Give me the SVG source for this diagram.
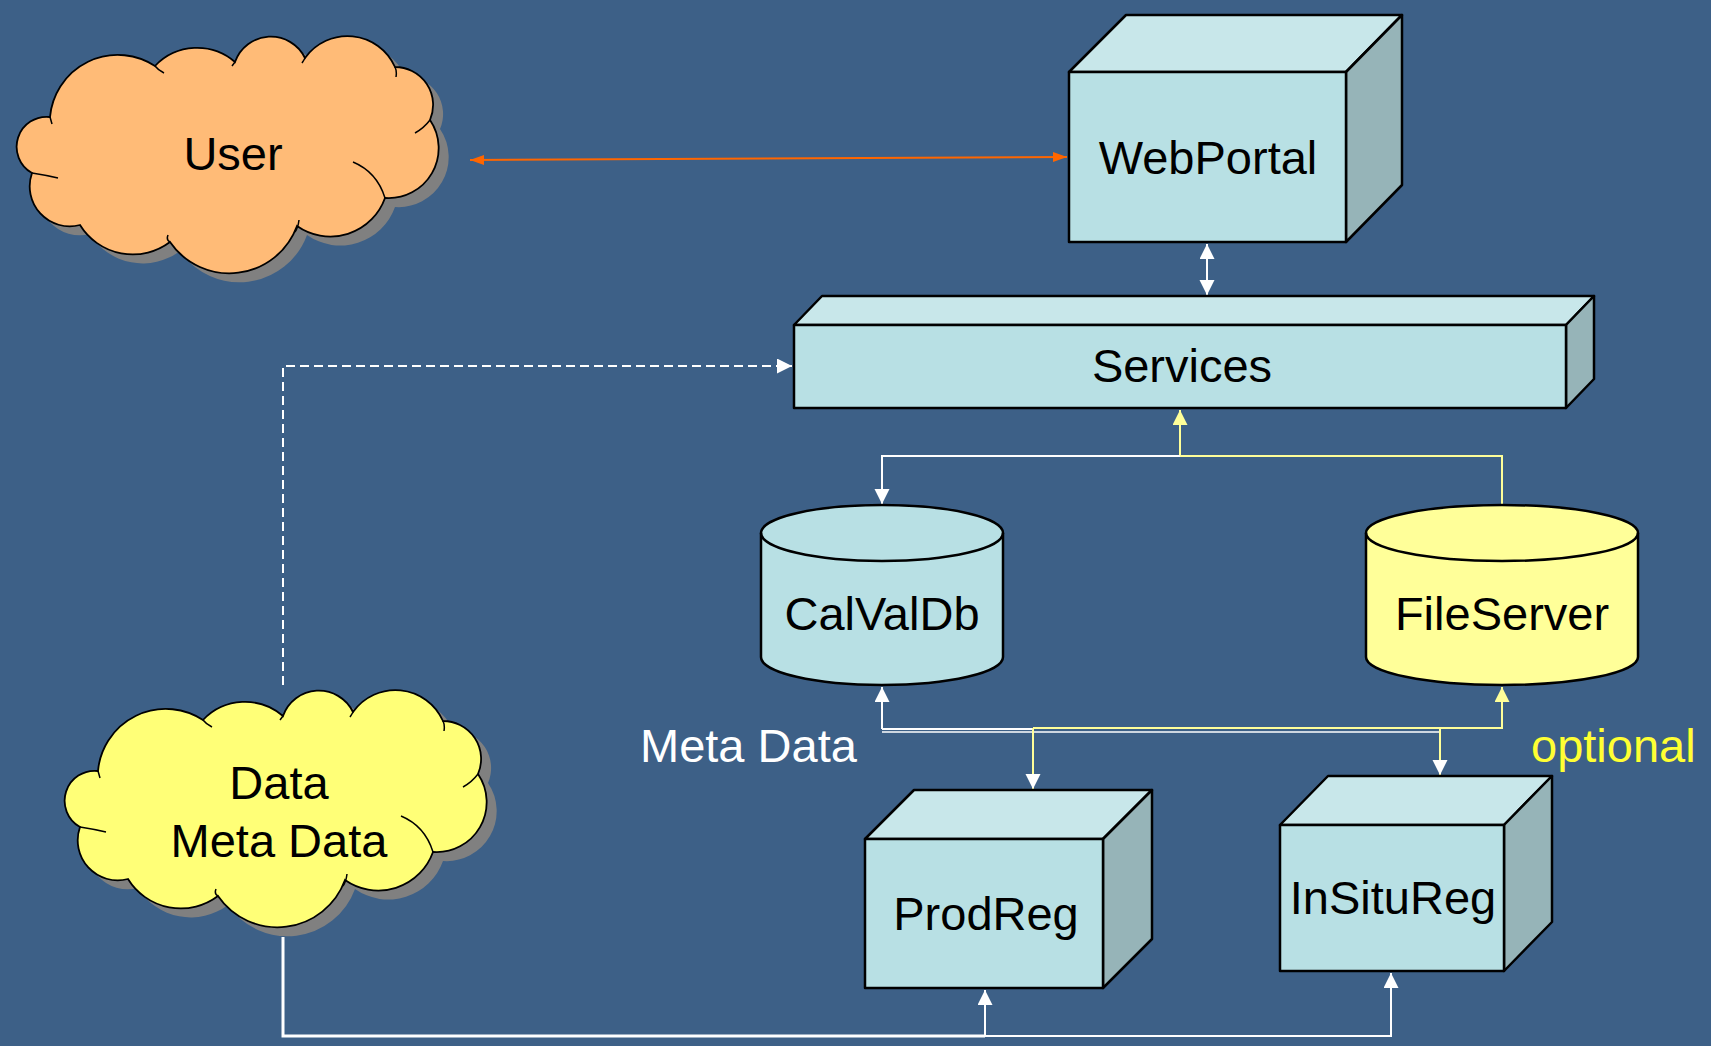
<svg xmlns="http://www.w3.org/2000/svg" width="1711" height="1046" viewBox="0 0 1711 1046">
<defs>
<style>
.lbl{font-family:"Liberation Sans",Arial,sans-serif;font-size:47px;fill:#000;text-anchor:middle}
.front{fill:#B8E0E4;stroke:#000;stroke-width:2.5;stroke-linejoin:round}
.top{fill:#C8E7EA;stroke:#000;stroke-width:2.5;stroke-linejoin:round}
.side{fill:#96B4B8;stroke:#000;stroke-width:2.5;stroke-linejoin:round}
.cyl{stroke:#000;stroke-width:2.5}
.cloudline{fill:none;stroke:#000;stroke-width:1.5}
.w{fill:none;stroke:#FFFFFF;stroke-width:2}
.y{fill:none;stroke:#FFFF99;stroke-width:2}
</style>
<marker id="aw" markerUnits="userSpaceOnUse" markerWidth="16" markerHeight="16" refX="15" refY="7.5" orient="auto-start-reverse"><path d="M0,0 L15,7.5 L0,15 z" fill="#FFFFFF"/></marker>
<marker id="ay" markerUnits="userSpaceOnUse" markerWidth="16" markerHeight="16" refX="15" refY="7.5" orient="auto-start-reverse"><path d="M0,0 L15,7.5 L0,15 z" fill="#FFFF99"/></marker>
<marker id="ao" markerUnits="userSpaceOnUse" markerWidth="16" markerHeight="12" refX="14" refY="5" orient="auto-start-reverse"><path d="M0,0 L14,5 L0,10 z" fill="#FF6600"/></marker>
<path id="cloud" d="M50 117 A30 30 0 0 0 32 173 A40 40 0 0 0 80 225 A62 62 0 0 0 170 242 A72 72 0 0 0 297 226 A58 58 0 0 0 385 198 A50 50 0 0 0 430 120 A38 38 0 0 0 395 67 A52 52 0 0 0 305 58 A38 38 0 0 0 235 62 A58 58 0 0 0 155 66 A68 68 0 0 0 50 117 Z"/>
<path id="cloudin" d="M32 173 Q45 175 58 178 M170 242 Q166 240 168 235 M295 232 Q298 228 299 220 M353 162 Q377 172 385 198 M430 120 Q424 128 415 133 M395 67 Q397 71 396 77 M305 58 Q304 60 302 63 M235 62 L232 66 M155 66 Q158 70 164 73 M50 117 L52 124"/>
</defs>
<rect x="0" y="0" width="1711" height="1046" fill="#3D6087"/>

<g id="connectors">
<line x1="470" y1="160" x2="1067" y2="157" stroke="#FF6600" stroke-width="2" marker-start="url(#ao)" marker-end="url(#ao)"/>
<line x1="1207" y1="244" x2="1207" y2="295" class="w" marker-start="url(#aw)" marker-end="url(#aw)"/>
<path d="M283 685 V366 H792" class="w" stroke-dasharray="9 5" marker-end="url(#aw)"/>
<path d="M1180 456 V410" class="y" marker-end="url(#ay)"/>
<path d="M1180 456 H1502 V505" class="y"/>
<path d="M1180 456 H882 V504" class="w" marker-end="url(#aw)"/>
<path d="M882 729 V687" class="w" marker-end="url(#aw)"/>
<path d="M882 729 H1033" class="w"/>
<path d="M882 732 H1440" fill="none" stroke="#FFFFFF" stroke-width="1.3"/>
<path d="M1033 728 H1502 V687" class="y" marker-end="url(#ay)"/>
<path d="M1033 728 V789" class="y" marker-end="url(#aw)"/>
<path d="M1440 728 V775" class="y" marker-end="url(#aw)"/>
<path d="M283 937 V1036 H985" fill="none" stroke="#FFFFFF" stroke-width="3"/>
<path d="M985 1036 H1391 V973" class="w" marker-end="url(#aw)"/>
<path d="M985 1036 V990" class="w" marker-end="url(#aw)"/>
</g>

<g id="user">
<use href="#cloud" transform="translate(10,9)" fill="#808080"/>
<use href="#cloud" fill="#FFBB77" stroke="#000" stroke-width="1.8"/>
<use href="#cloudin" class="cloudline"/>
<text x="233" y="170" class="lbl">User</text>
</g>

<g id="data">
<g transform="translate(48,654)">
<use href="#cloud" transform="translate(10,9)" fill="#808080"/>
<use href="#cloud" fill="#FFFF77" stroke="#000" stroke-width="1.8"/>
<use href="#cloudin" class="cloudline"/>
</g>
<text x="279" y="799" class="lbl">Data</text>
<text x="279" y="857" class="lbl">Meta Data</text>
</g>

<g id="webportal">
<polygon class="top" points="1069,72 1126,15 1402,15 1346,72"/>
<polygon class="side" points="1346,72 1402,15 1402,185 1346,242"/>
<rect class="front" x="1069" y="72" width="277" height="170"/>
<text x="1208" y="174" class="lbl">WebPortal</text>
</g>

<g id="services">
<polygon class="top" points="794,325 822,296 1594,296 1566,325"/>
<polygon class="side" points="1566,325 1594,296 1594,379 1566,408"/>
<rect class="front" x="794" y="325" width="772" height="83"/>
<text x="1182" y="382" class="lbl">Services</text>
</g>

<g id="calvaldb">
<path class="cyl" fill="#B8E0E4" d="M761 533 A121 28 0 0 1 1003 533 L1003 657 A121 28 0 0 1 761 657 Z"/>
<path d="M761 533 A121 28 0 0 0 1003 533" fill="none" stroke="#000" stroke-width="2.5"/>
<text x="882" y="630" class="lbl">CalValDb</text>
</g>

<g id="fileserver">
<path class="cyl" fill="#FFFF99" d="M1366 533 A136 28 0 0 1 1638 533 L1638 657 A136 28 0 0 1 1366 657 Z"/>
<path d="M1366 533 A136 28 0 0 0 1638 533" fill="none" stroke="#000" stroke-width="2.5"/>
<text x="1502" y="630" class="lbl">FileServer</text>
</g>

<g id="prodreg">
<polygon class="top" points="865,839 914,790 1152,790 1103,839"/>
<polygon class="side" points="1103,839 1152,790 1152,939 1103,988"/>
<rect class="front" x="865" y="839" width="238" height="149"/>
<text x="986" y="930" class="lbl">ProdReg</text>
</g>

<g id="insitureg">
<polygon class="top" points="1280,825 1328,776 1552,776 1504,825"/>
<polygon class="side" points="1504,825 1552,776 1552,922 1504,971"/>
<rect class="front" x="1280" y="825" width="224" height="146"/>
<text x="1393" y="914" class="lbl">InSituReg</text>
</g>

<g id="labels">
<text x="640" y="762" font-family="Liberation Sans, Arial, sans-serif" font-size="47" fill="#FFFFFF">Meta Data</text>
<text x="1531" y="762" font-family="Liberation Sans, Arial, sans-serif" font-size="47" fill="#FFFF33">optional</text>
</g>
</svg>
